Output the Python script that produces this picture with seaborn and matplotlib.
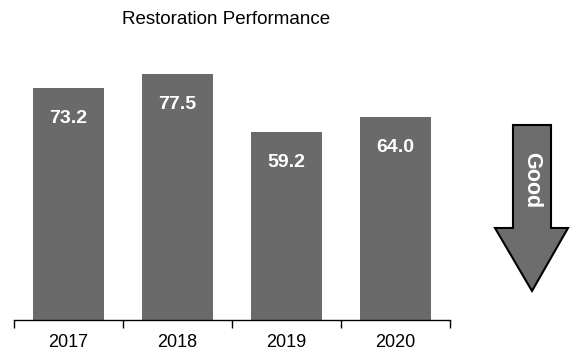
import matplotlib
matplotlib.use("Agg")
import matplotlib.pyplot as plt
from matplotlib.patches import Polygon
import seaborn as sns
import pandas as pd

years = ["2017", "2018", "2019", "2020"]
values = [73.2, 77.5, 59.2, 64.0]

sns.set_style("white")
plt.rcParams["font.family"] = ["Liberation Sans", "DejaVu Sans"]

bar_color = "#6a6a6a"
df = pd.DataFrame({"year": years, "value": values})

fig = plt.figure(figsize=(5.7, 3.5), dpi=100)
ax = fig.add_axes([14 / 570, 30 / 350, 436 / 570, 279 / 350])

sns.barplot(data=df, x="year", y="value", color=bar_color, saturation=1,
            width=0.65, ax=ax, edgecolor="none")

ax.set_xlim(-0.5, len(years) - 0.5)
ax.set_ylim(0, 88)
ax.set_xlabel("")
ax.set_ylabel("")
ax.set_yticks([])
for side in ["top", "right", "left"]:
    ax.spines[side].set_visible(False)
ax.spines["bottom"].set_color("black")
ax.spines["bottom"].set_linewidth(1.0)

ax.set_xticks([i - 0.5 for i in range(len(years) + 1)], minor=True)
ax.tick_params(axis="x", which="minor", length=6, width=1, color="black",
               direction="out", bottom=True)
ax.tick_params(axis="x", which="major", length=0, pad=10, labelsize=13,
               labelcolor="black")

for container in ax.containers:
    ax.bar_label(container, labels=[f"{v:.1f}" for v in values],
                 label_type="edge", padding=-28, color="white",
                 fontsize=14, fontweight="bold")

fig.text(226 / 570, 1 - 20 / 350, "Restoration Performance", ha="center",
         va="center", fontsize=13.5, color="black")

# "Good" direction arrow on the right
ov = fig.add_axes([0, 0, 1, 1], zorder=5)
ov.set_xlim(0, 570)
ov.set_ylim(350, 0)
ov.axis("off")
arrow = Polygon([(513, 125), (551, 125), (551, 228), (568, 228), (532, 291),
                 (495, 228), (513, 228)], closed=True,
                facecolor="#6d6d6d", edgecolor="black", linewidth=1.5)
ov.add_patch(arrow)
ov.text(532, 180, "Good", rotation=-90, ha="center", va="center",
        color="white", fontsize=15.5, fontweight="bold")

fig.savefig("out.png", dpi=100, facecolor="white")
